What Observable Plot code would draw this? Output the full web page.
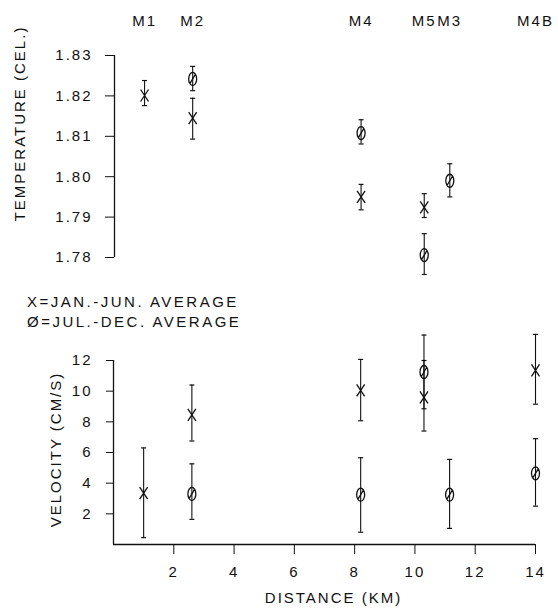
<!DOCTYPE html>
<html><head><meta charset="utf-8">
<script src="https://cdn.jsdelivr.net/npm/d3@7"></script>
<script src="https://cdn.jsdelivr.net/npm/@observablehq/plot@0.6"></script>
<style>
body{margin:0;background:#fff;}
#wrap{position:relative;width:558px;height:612px;font-family:"Liberation Sans",Arial,sans-serif;color:#111;}
#topPanel,#botPanel{position:absolute;left:0;}
#topPanel{top:0}
#botPanel{top:290px}
.leg{position:absolute;left:27px;font-size:15px;letter-spacing:2.5px;line-height:1;white-space:nowrap;}
</style></head><body>
<div id="wrap">
  <div id="topPanel"></div>
  <div id="botPanel"></div>
  <div class="leg" style="top:294px">X=JAN.-JUN. AVERAGE</div>
  <div class="leg" style="top:314px">Ø=JUL.-DEC. AVERAGE</div>
</div>
<script>
// ---- data ----
const sites = ["M1", "M2", "M4", "M5", "M3", "M4B"];
const distance = [1.0, 2.6, 8.2, 10.3, 11.15, 14.0];

// Temperature, Jan.-Jun. average (X)
const tempJanSites = ["M1", "M2", "M4", "M5"];
const tempJanMean  = [1.8201, 1.8145, 1.7950, 1.7924];
const tempJanLow   = [1.8176, 1.8093, 1.7918, 1.7899];
const tempJanHigh  = [1.8238, 1.8194, 1.7981, 1.7958];
// Temperature, Jul.-Dec. average (Ø)
const tempJulSites = ["M2", "M4", "M5", "M3"];
const tempJulMean  = [1.8242, 1.8108, 1.7806, 1.7990];
const tempJulLow   = [1.8213, 1.8081, 1.7758, 1.7950];
const tempJulHigh  = [1.8273, 1.8141, 1.7859, 1.8032];

// Velocity, Jan.-Jun. average (X)
const velJanSites = ["M1", "M2", "M4", "M5", "M4B"];
const velJanMean  = [3.35, 8.45, 10.05, 9.6, 11.35];
const velJanLow   = [0.45, 6.75, 8.07, 7.4, 9.15];
const velJanHigh  = [6.3, 10.4, 12.07, 12.0, 13.7];
// Velocity, Jul.-Dec. average (Ø)
const velJulSites = ["M2", "M4", "M5", "M3", "M4B"];
const velJulMean  = [3.3, 3.25, 11.25, 3.25, 4.64];
const velJulLow   = [1.64, 0.8, 8.85, 1.05, 2.5];
const velJulHigh  = [5.26, 5.66, 13.66, 5.55, 6.9];

const tempTicks = [1.78, 1.79, 1.80, 1.81, 1.82, 1.83];
const tempTickLabels = ["1.78", "1.79", "1.80", "1.81", "1.82", "1.83"];
const velTicks = [2, 4, 6, 8, 10, 12];
const distTicks = [2, 4, 6, 8, 10, 12, 14];
const xDomain = [0, 14];
const velDomain = [0, 12];

// ---- helpers ----
function rows(names, mean, low, high) {
  return names.map((s, i) => ({site: s, x: distance[sites.indexOf(s)], mean: mean[i], low: low[i], high: high[i]}));
}
const symX = {draw(c) { c.moveTo(-4, -6); c.lineTo(4, 6); c.moveTo(-4, 6); c.lineTo(4, -6); }};
const symO = {draw(c) {
  const rx = 4, ry = 6.5, k = 0.5523;
  c.moveTo(rx, 0);
  c.bezierCurveTo(rx, ry * k, rx * k, ry, 0, ry);
  c.bezierCurveTo(-rx * k, ry, -rx, ry * k, -rx, 0);
  c.bezierCurveTo(-rx, -ry * k, -rx * k, -ry, 0, -ry);
  c.bezierCurveTo(rx * k, -ry, rx, -ry * k, rx, 0);
  c.closePath();
  c.moveTo(-3, 5); c.lineTo(3, -5);
}};
const symCap = {draw(c) { c.moveTo(-2.5, 0); c.lineTo(2.5, 0); }};

function series(data, sym) {
  return [
    Plot.ruleX(data, {x: "x", y1: "low", y2: "high", stroke: "#111", strokeWidth: 1.1}),
    Plot.dot(data, {x: "x", y: "low", symbol: symCap, fill: "none", stroke: "#111", strokeWidth: 1.2}),
    Plot.dot(data, {x: "x", y: "high", symbol: symCap, fill: "none", stroke: "#111", strokeWidth: 1.2}),
    Plot.dot(data, {x: "x", y: "mean", symbol: sym, fill: "none", stroke: "#111", strokeWidth: 1.3})
  ];
}

const W = 558, ML = 114, MR = 23;
const baseStyle = {fontFamily: '"Liberation Sans", Arial, sans-serif', fontSize: "15px", color: "#111", background: "white", letterSpacing: "2px"};

const tJan = rows(tempJanSites, tempJanMean, tempJanLow, tempJanHigh);
const tJul = rows(tempJulSites, tempJulMean, tempJulLow, tempJulHigh);
const vJan = rows(velJanSites, velJanMean, velJanLow, velJanHigh);
const vJul = rows(velJulSites, velJulMean, velJulLow, velJulHigh);

const topChart = Plot.plot({
  width: W, height: 290,
  marginLeft: ML, marginRight: MR, marginTop: 55, marginBottom: 33,
  style: baseStyle,
  x: {domain: xDomain, axis: null},
  y: {domain: [tempTicks[0], tempTicks[tempTicks.length - 1]], ticks: tempTicks,
      tickFormat: d => tempTickLabels[tempTicks.indexOf(d)], tickSize: 9, tickPadding: 13, label: null},
  marks: [
    Plot.ruleX([xDomain[0]], {y1: tempTicks[0], y2: tempTicks[tempTicks.length - 1], stroke: "#111", strokeWidth: 1.3}),
    ...series(tJan, symX),
    ...series(tJul, symO),
    Plot.text(sites, {x: distance, text: d => d, frameAnchor: "top", dy: -40, fill: "#111"}),
    Plot.text(["TEMPERATURE (CEL.)"], {frameAnchor: "left", textAnchor: "middle", rotate: -90, dx: -94, dy: -33, fill: "#111"})
  ]
});
document.getElementById("topPanel").appendChild(topChart);

const botChart = Plot.plot({
  width: W, height: 322,
  marginLeft: ML - 1, marginRight: MR, marginTop: 70, marginBottom: 68,
  style: baseStyle,
  x: {domain: xDomain, ticks: distTicks, tickSize: 10, tickPadding: 12, label: null},
  y: {domain: velDomain, ticks: velTicks, tickSize: 7, tickPadding: 14, label: null},
  marks: [
    Plot.ruleY([velDomain[0]], {stroke: "#111", strokeWidth: 1.3}),
    Plot.ruleX([xDomain[0]], {y1: velDomain[0], y2: velDomain[1], stroke: "#111", strokeWidth: 1.3}),
    ...series(vJan, symX),
    ...series(vJul, symO),
    Plot.text(["DISTANCE (KM)"], {frameAnchor: "bottom", dx: 9, dy: 58, fill: "#111"}),
    Plot.text(["VELOCITY (CM/S)"], {frameAnchor: "left", textAnchor: "middle", rotate: -90, dx: -57, dy: -3, fill: "#111"})
  ]
});
document.getElementById("botPanel").appendChild(botChart);
</script>
</body></html>
